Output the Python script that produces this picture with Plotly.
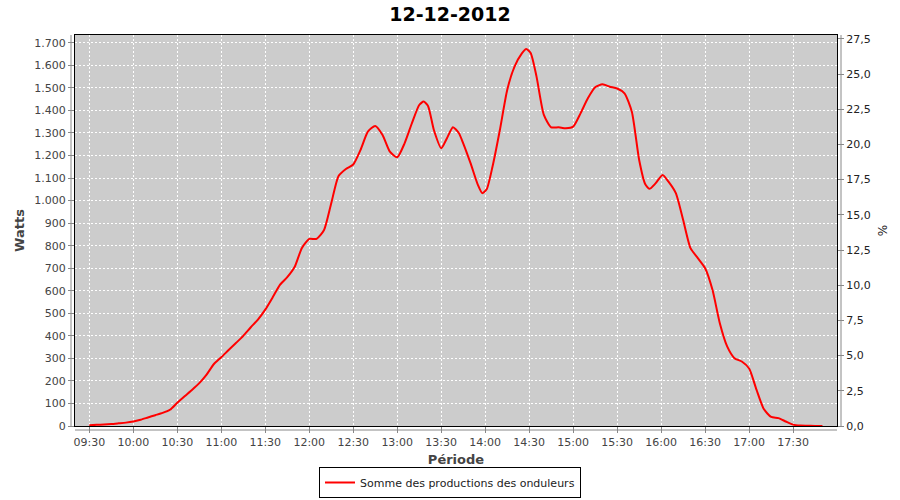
import plotly.graph_objects as go

DAY = "2012-12-12 "

times = [
    "09:30", "09:35", "09:40", "09:45", "09:50", "09:55", "10:00", "10:05", "10:10", "10:15",
    "10:20", "10:25", "10:30", "10:35", "10:40", "10:45", "10:50", "10:55", "11:00", "11:05",
    "11:10", "11:15", "11:20", "11:25", "11:30", "11:35", "11:40", "11:45", "11:50", "11:55",
    "12:00", "12:05", "12:10", "12:15", "12:20", "12:25", "12:30", "12:35", "12:40", "12:45",
    "12:50", "12:55", "13:00", "13:05", "13:10", "13:15", "13:18", "13:21", "13:25", "13:30",
    "13:34", "13:38", "13:42", "13:45", "13:50", "13:55", "13:58", "14:01", "14:05", "14:10",
    "14:15", "14:20", "14:25", "14:28", "14:31", "14:35", "14:40", "14:45", "14:50", "14:55",
    "15:00", "15:05", "15:10", "15:15", "15:20", "15:25", "15:30", "15:35", "15:40", "15:45",
    "15:49", "15:52", "15:56", "16:01", "16:05", "16:10", "16:15", "16:20", "16:25", "16:30",
    "16:35", "16:40", "16:45", "16:50", "16:55", "17:00", "17:05", "17:10", "17:15", "17:20",
    "17:25", "17:30", "17:35", "17:40", "17:45", "17:50",
]

watts = [
    3, 5, 7, 9, 12, 15, 20, 28, 38, 48,
    58, 72, 103, 132, 160, 190, 228, 275, 305, 337,
    368, 400, 437, 472, 516, 570, 626, 660, 705, 790,
    830, 830, 868, 988, 1109, 1140, 1160, 1225, 1306, 1331,
    1291, 1217, 1192, 1254, 1343, 1424, 1439, 1420, 1313, 1232,
    1278, 1325, 1300, 1254, 1166, 1070, 1033, 1050, 1151, 1313,
    1491, 1594, 1653, 1672, 1655, 1550, 1380, 1325, 1325, 1321,
    1328, 1387, 1454, 1503, 1516, 1505, 1497, 1476, 1394, 1180,
    1075, 1052, 1075, 1114, 1084, 1033, 914, 789, 745, 700,
    604, 456, 353, 301, 286, 255, 161, 75, 40, 35,
    20, 6, 2, 1, 0, 0,
]

series_name = "Somme des productions des onduleurs"
chart_title = "12-12-2012"
x_title = "Période"
y_title = "Watts"
y2_title = "%"

x_vals = [DAY + t for t in times]

FONT = "DejaVu Sans"
TICK_COLOR = "#444444"

fig = go.Figure()
fig.add_trace(go.Scatter(
    x=x_vals, y=watts, mode="lines", name=series_name,
    line=dict(color="#ff0000", width=2, shape="spline", smoothing=0.6),
))
fig.add_trace(go.Scatter(x=[], y=[], yaxis="y2", showlegend=False, hoverinfo="skip"))

W, H = 900, 500
L, R, T, B = 75, 63, 35, 74
pw = W - L - R
ph = H - T - B

fig.update_layout(
    width=W, height=H,
    margin=dict(l=L, r=R, t=T, b=B, autoexpand=False),
    paper_bgcolor="white",
    plot_bgcolor="#cccccc",
    separators=",.",
    font=dict(family=FONT, size=11, color=TICK_COLOR),
    title=dict(text="<b>" + chart_title + "</b>", x=0.5, xref="container", xanchor="center",
               y=1 - 14 / H, yref="container", yanchor="middle",
               font=dict(family=FONT, size=19, color="black")),
    xaxis=dict(
        type="date", automargin=False,
        range=[DAY + "09:20:15", DAY + "17:59:55"],
        tick0=DAY + "09:30", dtick=1800000, tickformat="%H:%M",
        showgrid=True, gridcolor="white", griddash="2px,2px", gridwidth=1,
        showline=True, linecolor="black", linewidth=1, mirror=True,
        ticks="outside", ticklen=6, tickcolor="#888888",
        tickfont=dict(family=FONT, size=11, color=TICK_COLOR),
        title=dict(text="<b>" + x_title + "</b>", font=dict(family=FONT, size=13, color=TICK_COLOR), standoff=6),
        zeroline=False,
    ),
    yaxis=dict(
        automargin=False,
        range=[0, 1734.5], dtick=100, tick0=0, tickformat=",d",
        showgrid=True, gridcolor="white", griddash="2px,2px", gridwidth=1,
        showline=True, linecolor="black", linewidth=1, mirror=True,
        ticks="outside", ticklen=6, tickcolor="#888888",
        tickfont=dict(family=FONT, size=11, color=TICK_COLOR),
        title=dict(text="<b>" + y_title + "</b>", font=dict(family=FONT, size=13, color=TICK_COLOR), standoff=6),
        zeroline=False,
    ),
    yaxis2=dict(
        overlaying="y", side="right", automargin=False,
        range=[0, 27.77], dtick=2.5, tick0=0, tickformat=".1f",
        showgrid=False, showline=False, zeroline=False,
        ticks="outside", ticklen=6, tickcolor="#888888",
        tickfont=dict(family=FONT, size=11, color="#222222"),
        title=dict(text=y2_title, font=dict(family=FONT, size=12, color="#222222"), standoff=8),
    ),
    legend=dict(
        orientation="h", x=0.5, xanchor="center", xref="container",
        y=0.004, yanchor="bottom", yref="container",
        bordercolor="black", borderwidth=1, bgcolor="white",
        font=dict(family=FONT, size=11, color="#222222"),
        itemwidth=30,
    ),
    showlegend=True,
)

# grey axis lines offset from the plot border (JFreeChart style)
off_x = 4 / pw
off_y = 4 / ph
fig.add_shape(type="line", xref="paper", yref="paper", x0=-off_x, x1=-off_x, y0=0, y1=1,
              line=dict(color="#888888", width=1))
fig.add_shape(type="line", xref="paper", yref="paper", x0=1 + off_x, x1=1 + off_x, y0=0, y1=1,
              line=dict(color="#888888", width=1))
fig.add_shape(type="line", xref="paper", yref="paper", x0=0, x1=1, y0=-off_y, y1=-off_y,
              line=dict(color="#888888", width=1))

fig.write_html("out.html", config={"displayModeBar": False},
               post_script="document.body.style.margin='0px';")
